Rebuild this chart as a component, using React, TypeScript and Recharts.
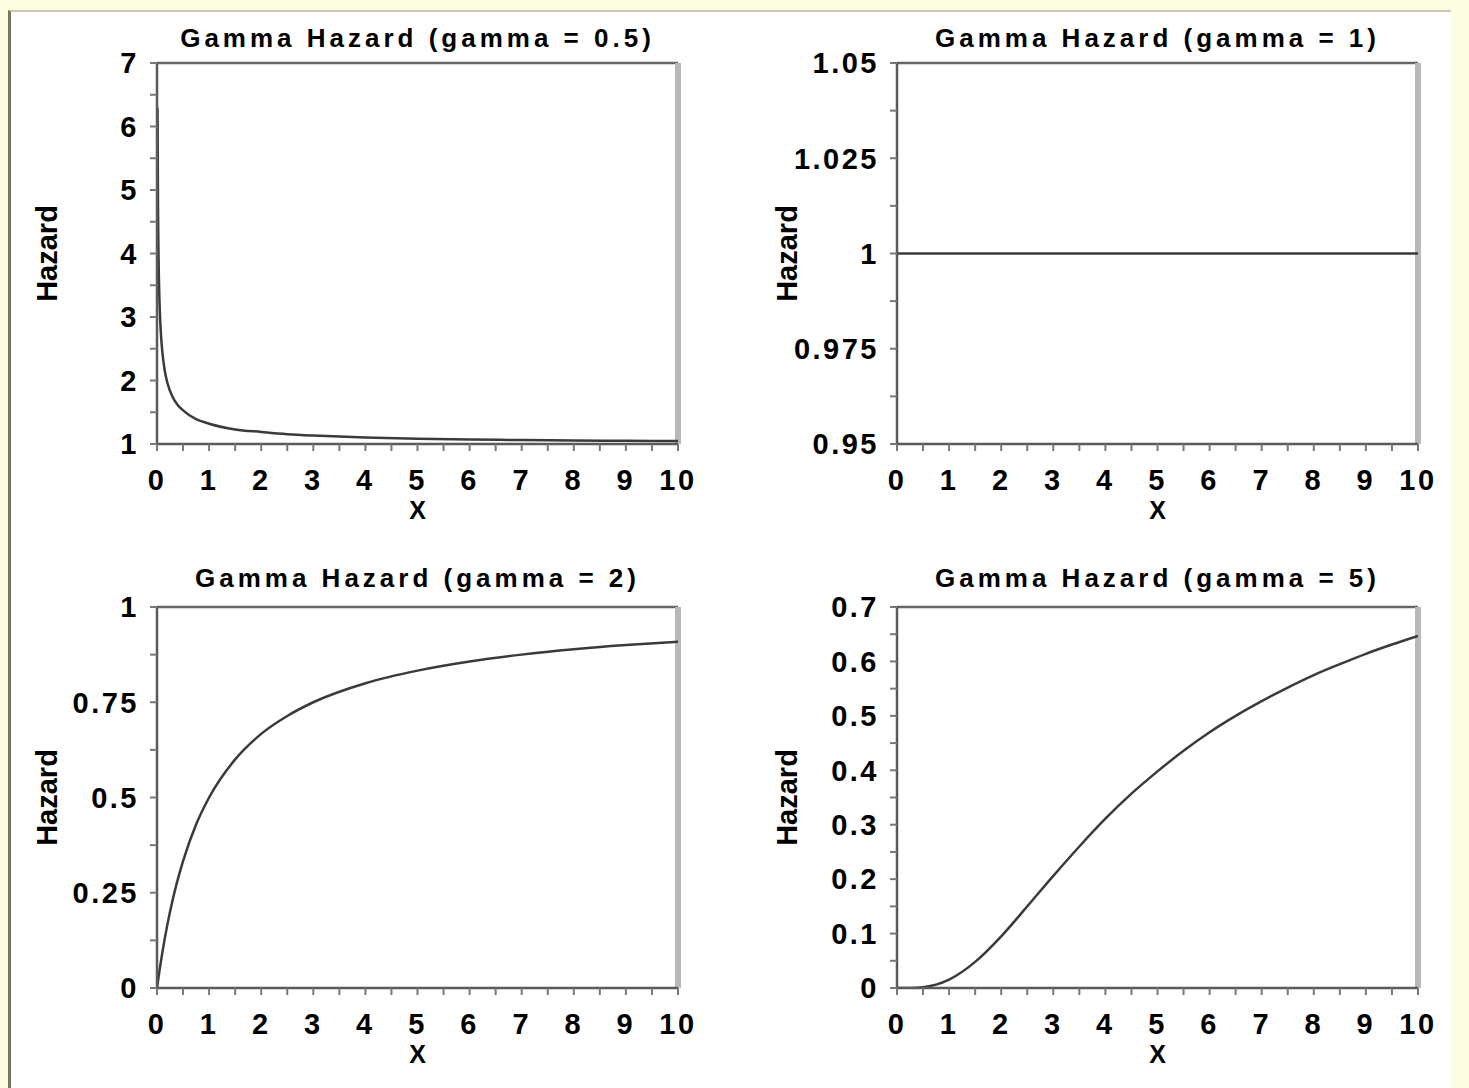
import { LineChart, Line, XAxis, YAxis, ReferenceLine } from "recharts";

// x axis: majors at integers, minors at halves
const xTicks = [0, 0.5, 1, 1.5, 2, 2.5, 3, 3.5, 4, 4.5, 5, 5.5, 6, 6.5, 7, 7.5, 8, 8.5, 9, 9.5, 10];
const xTickLabels = [0, 1, 2, 3, 4, 5, 6, 7, 8, 9, 10];

// gamma = 0.5
const gamma05X = [0.01, 0.02, 0.03, 0.05, 0.075, 0.1, 0.15, 0.2, 0.3, 0.4, 0.5, 0.75, 1, 1.5, 2, 2.5, 3, 3.5, 4, 5, 6, 7, 8, 9, 10];
const gamma05Hazard = [6.29, 4.65, 3.92, 3.19, 2.74, 2.47, 2.15, 1.96, 1.74, 1.61, 1.53, 1.39, 1.32, 1.23, 1.19, 1.155, 1.133, 1.117, 1.104, 1.082, 1.071, 1.063, 1.056, 1.05, 1.046];
const gamma05Ticks = [1, 1.5, 2, 2.5, 3, 3.5, 4, 4.5, 5, 5.5, 6, 6.5, 7];
const gamma05Labels = [1, 2, 3, 4, 5, 6, 7];

// gamma = 1
const gamma1X = [0, 2.5, 5, 7.5, 10];
const gamma1Hazard = [1, 1, 1, 1, 1];
const gamma1Ticks = [0.95, 0.9625, 0.975, 0.9875, 1, 1.0125, 1.025, 1.0375, 1.05];
const gamma1Labels = [0.95, 0.975, 1, 1.025, 1.05];

// gamma = 2
const gamma2X = [0, 0.05, 0.1, 0.2, 0.3, 0.5, 0.75, 1, 1.5, 2, 2.5, 3, 4, 5, 6, 7, 8, 9, 10];
const gamma2Hazard = [0, 0.048, 0.091, 0.167, 0.231, 0.333, 0.429, 0.5, 0.6, 0.667, 0.714, 0.75, 0.8, 0.833, 0.857, 0.875, 0.889, 0.9, 0.909];
const gamma2Ticks = [0, 0.125, 0.25, 0.375, 0.5, 0.625, 0.75, 0.875, 1];
const gamma2Labels = [0, 0.25, 0.5, 0.75, 1];

// gamma = 5
const gamma5X = [0, 0.25, 0.5, 0.75, 1, 1.5, 2, 2.5, 3, 3.5, 4, 4.5, 5, 5.5, 6, 6.5, 7, 7.5, 8, 8.5, 9, 9.5, 10];
const gamma5Hazard = [0, 0.0001, 0.0016, 0.0062, 0.0154, 0.048, 0.095, 0.15, 0.206, 0.26, 0.311, 0.357, 0.398, 0.436, 0.47, 0.5, 0.527, 0.552, 0.575, 0.595, 0.614, 0.631, 0.647];
const gamma5Ticks = [0, 0.05, 0.1, 0.15, 0.2, 0.25, 0.3, 0.35, 0.4, 0.45, 0.5, 0.55, 0.6, 0.65, 0.7];
const gamma5Labels = [0, 0.1, 0.2, 0.3, 0.4, 0.5, 0.6, 0.7];

const FONT = '"Liberation Sans", Arial, sans-serif';
const AXIS_COLOR = "#5a5a5a";
const LINE_COLOR = "#3a3a3a";

const PLOT_W = 521;
const PLOT_H = 381;
const PAD_L = 150;
const PAD_T = 50;
const PAD_R = 30;
const PAD_B = 90;
const Y_AXIS_W = 60;
const X_AXIS_H = 80;

const tickStyle = {
  fill: "#000",
  fontSize: 29,
  fontFamily: FONT,
  fontWeight: "bold",
  letterSpacing: 2.5,
};

type PanelProps = {
  left: number;
  top: number;
  titleGap: number;
  title: string;
  xs: number[];
  ys: number[];
  yDomain: [number, number];
  yTicks: number[];
  yLabels: number[];
};

function Panel({ left, top, titleGap, title, xs, ys, yDomain, yTicks, yLabels }: PanelProps) {
  const data = xs.map((x, i) => ({ x, hazard: ys[i] }));
  return (
    <div style={{ position: "absolute", left: left - PAD_L, top: top - PAD_T }}>
      <div
        style={{
          position: "absolute",
          left: PAD_L - 60,
          width: PLOT_W + 120,
          top: PAD_T - titleGap - 15,
          height: 30,
          lineHeight: "30px",
          textAlign: "center",
          fontFamily: FONT,
          fontWeight: "bold",
          fontSize: 26,
          letterSpacing: 4,
          color: "#000",
          whiteSpace: "nowrap",
        }}
      >
        {title}
      </div>
      <LineChart
        width={PLOT_W + PAD_L + PAD_R}
        height={PLOT_H + PAD_T + PAD_B}
        data={data}
        margin={{ top: PAD_T, right: PAD_R, bottom: PAD_B - X_AXIS_H, left: PAD_L - Y_AXIS_W }}
      >
        <XAxis
          dataKey="x"
          type="number"
          domain={[0, 10]}
          allowDataOverflow
          ticks={xTicks}
          interval={0}
          height={X_AXIS_H}
          tickSize={7}
          tickMargin={18}
          tickFormatter={(v: number) => (xTickLabels.includes(v) ? String(v) : "")}
          tick={tickStyle}
          tickLine={{ stroke: "#777", strokeWidth: 2 }}
          axisLine={{ stroke: AXIS_COLOR, strokeWidth: 2.5 }}
          label={(props: any) => {
            const vb = props.viewBox || {};
            return (
              <text
                x={vb.x + vb.width / 2}
                y={vb.y + 66}
                textAnchor="middle"
                dominantBaseline="central"
                fontFamily={FONT}
                fontWeight="bold"
                fontSize={25}
                fill="#000"
              >
                X
              </text>
            );
          }}
        />
        <YAxis
          type="number"
          domain={yDomain}
          allowDataOverflow
          ticks={yTicks}
          interval={0}
          width={Y_AXIS_W}
          tickSize={7}
          tickMargin={11}
          tickFormatter={(v: number) => (yLabels.includes(v) ? String(v) : "")}
          tick={tickStyle}
          tickLine={{ stroke: "#777", strokeWidth: 2 }}
          axisLine={{ stroke: AXIS_COLOR, strokeWidth: 2.5 }}
          label={(props: any) => {
            const vb = props.viewBox || {};
            const cx = vb.x + vb.width - 110;
            const cy = vb.y + vb.height / 2;
            return (
              <text
                x={cx}
                y={cy}
                transform={`rotate(-90 ${cx} ${cy})`}
                textAnchor="middle"
                dominantBaseline="central"
                fontFamily={FONT}
                fontWeight="bold"
                fontSize={29}
                fill="#000"
              >
                Hazard
              </text>
            );
          }}
        />
        <ReferenceLine y={yDomain[1]} stroke="#666" strokeWidth={2.5} />
        <ReferenceLine x={10} stroke="#b8b8b8" strokeWidth={6} />
        <Line
          type="monotone"
          dataKey="hazard"
          stroke={LINE_COLOR}
          strokeWidth={2.5}
          dot={false}
          isAnimationActive={false}
        />
      </LineChart>
    </div>
  );
}

export default function App() {
  return (
    <div
      style={{
        position: "absolute",
        left: 0,
        top: 0,
        width: 1469,
        height: 1088,
        background: "#fdfde2",
        overflow: "hidden",
      }}
    >
      <div
        style={{
          position: "absolute",
          left: 8,
          top: 10,
          width: 1440,
          height: 1076,
          background: "#fff",
          borderLeft: "3px solid #76765c",
          borderTop: "2px solid #c9c9b2",
        }}
      />
      <Panel
        left={157}
        top={63}
        titleGap={25}
        title="Gamma Hazard (gamma = 0.5)"
        xs={gamma05X}
        ys={gamma05Hazard}
        yDomain={[1, 7]}
        yTicks={gamma05Ticks}
        yLabels={gamma05Labels}
      />
      <Panel
        left={897}
        top={63}
        titleGap={25}
        title="Gamma Hazard (gamma = 1)"
        xs={gamma1X}
        ys={gamma1Hazard}
        yDomain={[0.95, 1.05]}
        yTicks={gamma1Ticks}
        yLabels={gamma1Labels}
      />
      <Panel
        left={157}
        top={607}
        titleGap={29}
        title="Gamma Hazard (gamma = 2)"
        xs={gamma2X}
        ys={gamma2Hazard}
        yDomain={[0, 1]}
        yTicks={gamma2Ticks}
        yLabels={gamma2Labels}
      />
      <Panel
        left={897}
        top={607}
        titleGap={29}
        title="Gamma Hazard (gamma = 5)"
        xs={gamma5X}
        ys={gamma5Hazard}
        yDomain={[0, 0.7]}
        yTicks={gamma5Ticks}
        yLabels={gamma5Labels}
      />
    </div>
  );
}
